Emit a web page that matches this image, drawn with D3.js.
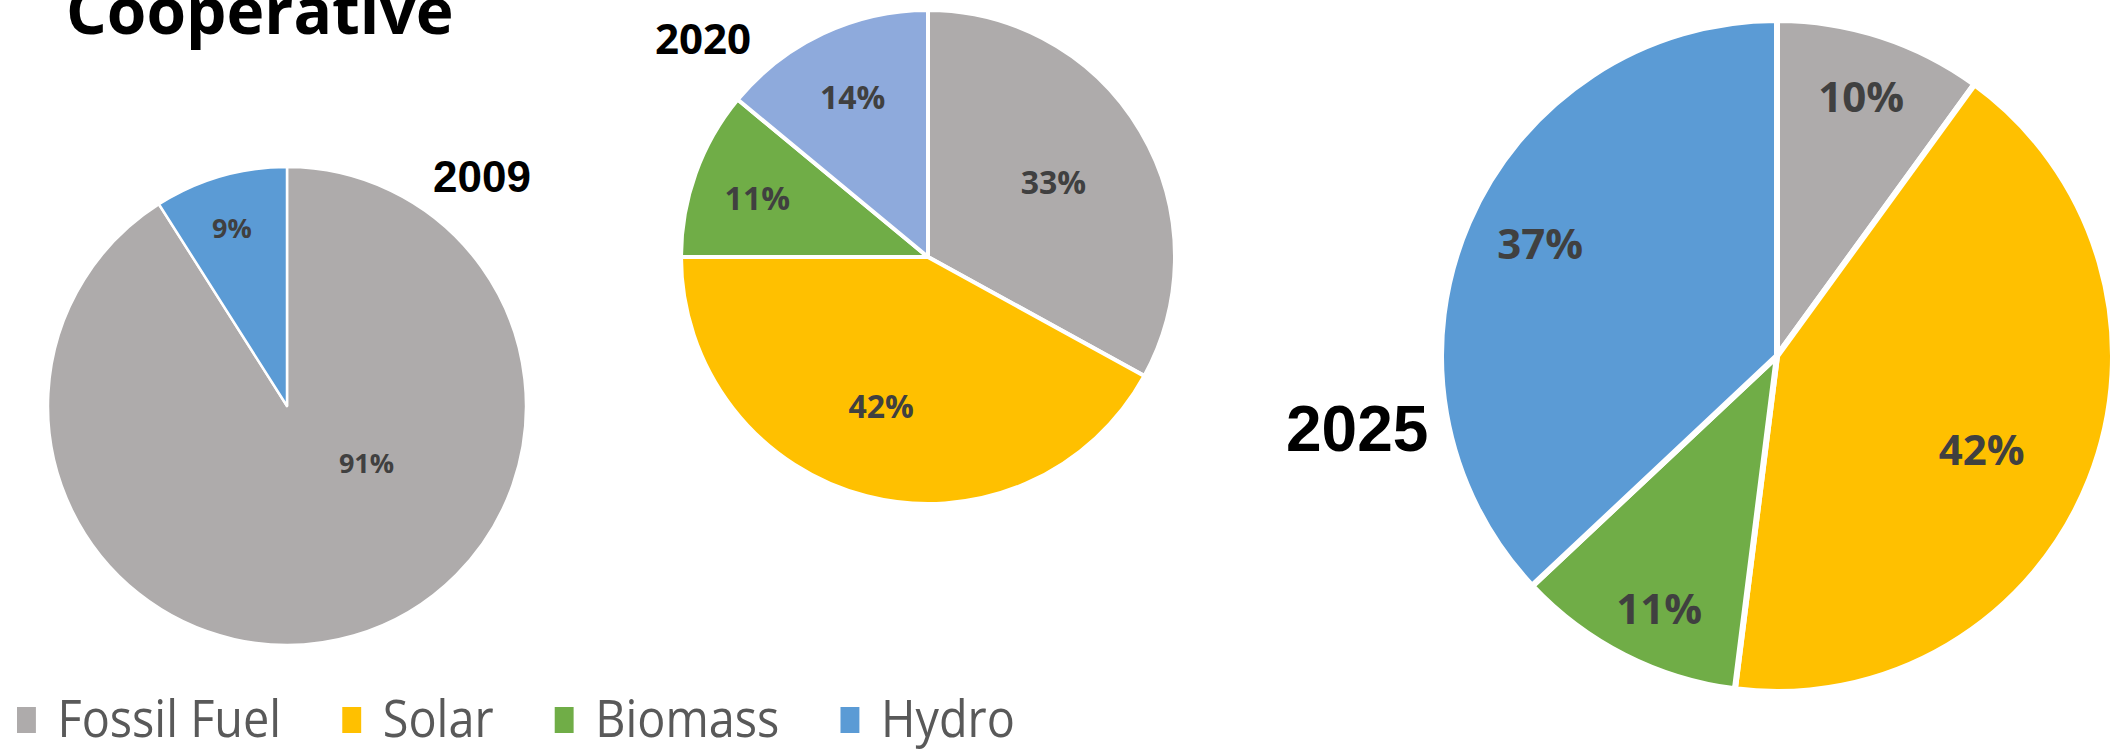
<!DOCTYPE html>
<html>
<head>
<meta charset="utf-8">
<script src="https://cdn.jsdelivr.net/npm/d3@7"></script>
<style>
  html, body { margin: 0; padding: 0; background: #fff; }
  svg { display: block; }
  .pct { font-family: "Open Sans", sans-serif; font-weight: 700; fill: #404040; }
  .legend-label { font-family: "Open Sans", sans-serif; fill: #595959; }
</style>
</head>
<body>
<div id="chart"></div>
<script>
// ── Data ──────────────────────────────────────────────────────────────────
const sources   = ['Fossil Fuel', 'Solar', 'Biomass', 'Hydro'];
const years     = ['2009', '2020', '2025'];
const share2009 = [91, 0, 0, 9];
const share2020 = [33, 42, 11, 14];
const share2025 = [10, 42, 11, 37];

const COLORS = {
  'Fossil Fuel': '#aeabab',
  'Solar':       '#ffc000',
  'Biomass':     '#70ad47',
  'Hydro':       '#5b9bd5',
};
// the 2020 pie uses a paler hydro blue
const HYDRO_2020 = '#8eaadc';

const W = 2123, H = 752;

// ── Layout per pie ────────────────────────────────────────────────────────
const pies = [
  { year: years[0], values: share2009, cx: 287, cy: 406, r: 239, stroke: 2.5, font: 27,
    labelFrac: [0.41, 0, 0, 0.78], labelTurn: [-38, 0, 0, -1],
    title: { x: 433, y: 192, size: 44, family: '"Liberation Sans", Arial, sans-serif' } },
  { year: years[1], values: share2020, cx: 928, cy: 257, r: 247, stroke: 4, font: 32,
    labelFrac: [0.59, 0.635, 0.73, 0.716], labelTurn: [0, 3, -1, 0],
    title: { x: 655, y: 54, size: 42, family: '"Open Sans", sans-serif' } },
  { year: years[2], values: share2025, cx: 1777, cy: 356, r: 336, stroke: 6, font: 42,
    labelFrac: [0.81, 0.67, 0.83, 0.78], labelTurn: [0, 3, -2, 2],
    title: { x: 1286, y: 451, size: 64, family: '"Liberation Sans", Arial, sans-serif' } },
];

const svg = d3.select('#chart').append('svg')
  .attr('width', W)
  .attr('height', H);

// ── Title ─────────────────────────────────────────────────────────────────
svg.append('text')
  .attr('x', 66)
  .attr('y', 34)
  .style('font-family', '"Open Sans", sans-serif')
  .style('font-weight', 700)
  .style('font-size', '64px')
  .attr('fill', '#000')
  .text('Cooperative');

// ── Pies ──────────────────────────────────────────────────────────────────
const pie = d3.pie().sort(null).value(d => d.value);
const rad = Math.PI / 180;

pies.forEach(p => {
  const rows = sources.map((s, i) => ({
    source: s,
    value: p.values[i],
    color: (s === 'Hydro' && p.year === '2020') ? HYDRO_2020 : COLORS[s],
    frac: p.labelFrac[i],
    turn: p.labelTurn[i],
  }));

  const arcs = pie(rows).filter(d => d.data.value > 0);
  const arc  = d3.arc().innerRadius(0).outerRadius(p.r);

  const g = svg.append('g')
    .attr('class', 'pie pie-' + p.year)
    .attr('transform', `translate(${p.cx},${p.cy})`);

  g.selectAll('path')
    .data(arcs)
    .join('path')
    .attr('d', arc)
    .attr('fill', d => d.data.color)
    .attr('stroke', '#fff')
    .attr('stroke-width', p.stroke)
    .attr('stroke-linejoin', 'round');

  g.selectAll('text.pct')
    .data(arcs)
    .join('text')
    .attr('class', 'pct')
    .attr('transform', d => {
      const lr = p.r * d.data.frac;
      const a  = (d.startAngle + d.endAngle) / 2 + d.data.turn * rad;
      return `translate(${lr * Math.sin(a)},${-lr * Math.cos(a)})`;
    })
    .attr('text-anchor', 'middle')
    .attr('dy', '0.36em')
    .style('font-size', p.font + 'px')
    .text(d => d.data.value + '%');

  svg.append('text')
    .attr('x', p.title.x)
    .attr('y', p.title.y)
    .style('font-family', p.title.family)
    .style('font-weight', 700)
    .style('font-size', p.title.size + 'px')
    .attr('fill', '#000')
    .text(p.year);
});

// ── Legend ────────────────────────────────────────────────────────────────
const legend = svg.append('g')
  .attr('class', 'legend')
  .attr('transform', 'translate(17,737) scale(0.9,1)');

let lx = 0;
sources.forEach(s => {
  const item = legend.append('g').attr('transform', `translate(${lx},0)`);
  item.append('rect')
    .attr('x', 0)
    .attr('y', -30)
    .attr('width', 21)
    .attr('height', 26)
    .attr('fill', COLORS[s]);
  const t = item.append('text')
    .attr('class', 'legend-label')
    .attr('x', 45)
    .attr('y', 0)
    .style('font-size', '52px')
    .text(s);
  lx += 45 + t.node().getComputedTextLength() + 68;
});
</script>
</body>
</html>
